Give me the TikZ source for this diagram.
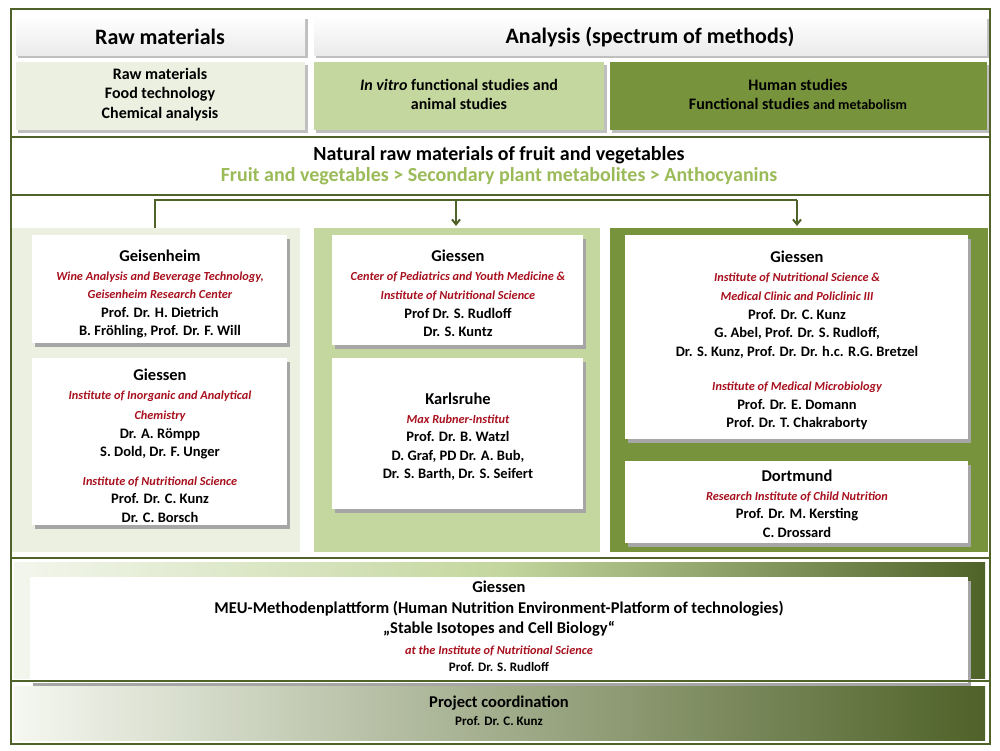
\documentclass[tikz,border=0pt]{standalone}
\usepackage{fontspec}
\setmainfont{Carlito}
\usetikzlibrary{arrows.meta}
\definecolor{frame}{HTML}{4F6228}
\definecolor{pale}{HTML}{EBF0E1}
\definecolor{mid}{HTML}{C4D79E}
\definecolor{dark}{HTML}{77933C}
\definecolor{lgreen}{HTML}{9BBB59}
\definecolor{dred}{HTML}{A8101E}
\newcommand{\fT}{\fontsize{16.5}{18}\selectfont\bfseries}
\newcommand{\fR}{\fontsize{12.3}{14.5}\selectfont\bfseries\itshape\color{dred}}
\newcommand{\fN}{\fontsize{14.5}{18.5}\selectfont\bfseries\upshape\color{black}}
\begin{document}
\begin{tikzpicture}[x=1pt,y=-1pt,
  sep/.style={draw=frame,line width=2.5pt},
  card/.style={fill=white},
  shadow/.style={fill=black!35},
  txt/.style={align=center,inner sep=0pt,anchor=north,font=\fN},
  conn/.style={draw=frame,line width=2pt},
  arr/.style={conn,-{Straight Barb[length=5pt,width=8pt]}}]
\useasboundingbox (0,0) rectangle (1000,750);
\fill[white] (0,0) rectangle (1000,750);
% header row
\fill[black!25] (18,19) rectangle (308,58);
\shade[top color=white,bottom color=black!8] (16,16) rectangle (305,55);
\fill[black!25] (316,19) rectangle (990,58);
\shade[top color=white,bottom color=black!8] (314,16) rectangle (987,55);
\node[font=\fontsize{22}{24}\selectfont\bfseries] (hraw) at (160,37) {Raw materials};
\node[font=\fontsize{22}{24}\selectfont\bfseries] (hana) at (650,37) {Analysis (spectrum of methods)};
% second row
\fill[black!25] (18,65) rectangle (308,133);
\fill[pale] (16,62) rectangle (305,130);
\fill[black!25] (316,65) rectangle (607,133);
\fill[mid] (314,62) rectangle (604,130);
\fill[black!25] (612,65) rectangle (990,133);
\fill[dark] (610,62) rectangle (987,130);
\node[txt,font=\fontsize{16}{19.5}\selectfont\bfseries] (r1) at (160,68) {Raw materials\\Food technology\\Chemical analysis};
\node[txt,font=\fontsize{16}{19.5}\selectfont\bfseries] (r2) at (459,79) {\textit{In vitro} functional studies and\\animal studies};
\node[txt,font=\fontsize{16}{19.5}\selectfont\bfseries] (r3) at (798,79) {Human studies\\Functional studies {\fontsize{14}{19.5}\selectfont and metabolism}};
% natural section
\node[txt,font=\fontsize{20}{21}\selectfont\bfseries] (nat) at (499,146) {Natural raw materials of fruit and vegetables\\\color{lgreen}Fruit and vegetables > Secondary plant metabolites > Anthocyanins};
% column panels
\fill[pale] (12,228) rectangle (300,552);
\fill[mid] (314,228) rectangle (600,552);
\fill[dark] (610,228) rectangle (988,552);
% cards
\fill[shadow] (35,239) rectangle (290,347);
\fill[card] (32,235) rectangle (287,343);
\fill[shadow] (35,362) rectangle (290,529);
\fill[card] (32,358) rectangle (287,525);
\fill[shadow] (335,239) rectangle (586,349);
\fill[card] (332,235) rectangle (583,345);
\fill[shadow] (335,362) rectangle (586,513);
\fill[card] (332,358) rectangle (583,509);
\fill[shadow] (628,239) rectangle (971,443);
\fill[card] (625,235) rectangle (968,439);
\fill[shadow] (628,465) rectangle (971,547);
\fill[card] (625,461) rectangle (968,543);
\node[txt] (c1) at (160,250) {\fT Geisenheim\\\fR Wine Analysis and Beverage Technology,\\\fR Geisenheim Research Center\\Prof. Dr. H. Dietrich\\B. Fröhling, Prof. Dr. F. Will};
\node[txt] (c2) at (160,369) {\fT Giessen\\\fR Institute of Inorganic and Analytical\\[2pt]\fR Chemistry\\Dr. A. Römpp\\S. Dold, Dr. F. Unger\\[10pt]\fR Institute of Nutritional Science\\Prof. Dr. C. Kunz\\Dr. C. Borsch};
\node[txt] (c3) at (458,250) {\fT Giessen\\\fR Center of Pediatrics and Youth Medicine \&\\[1pt]\fR Institute of Nutritional Science\\Prof Dr. S. Rudloff\\Dr. S. Kuntz};
\node[txt] (c4) at (458,393) {\fT Karlsruhe\\\fR Max Rubner-Institut\\Prof. Dr. B. Watzl\\D. Graf, PD Dr. A. Bub,\\Dr. S. Barth, Dr. S. Seifert};
\node[txt] (c5) at (797,251) {\fT Giessen\\\fR Institute of Nutritional Science \&\\[1pt]\fR Medical Clinic and Policlinic III\\Prof. Dr. C. Kunz\\G. Abel, Prof. Dr. S. Rudloff,\\Dr. S. Kunz, Prof. Dr. Dr. h.c. R.G. Bretzel\\[16pt]\fR Institute of Medical Microbiology\\Prof. Dr. E. Domann\\Prof. Dr. T. Chakraborty};
\node[txt] (c6) at (797,470) {\fT Dortmund\\\fR Research Institute of Child Nutrition\\Prof. Dr. M. Kersting\\C. Drossard};
% connectors
\coordinate (jl) at (155,200);
\coordinate (jm) at (456,200);
\coordinate (jr) at (797,200);
\coordinate (tl) at (155,228);
\coordinate (tm) at (456,226);
\coordinate (tr) at (797,226);
\draw[conn] (tl) -- (jl) -- (jr);
\draw[arr] (jm) -- (tm);
\draw[arr] (jr) -- (tr);
% MEU section
\shade[left color=pale!60!white,right color=frame,middle color=mid] (14,562) rectangle (985,678);
\fill[shadow] (33,581) rectangle (971,687);
\fill[card] (30,577) rectangle (968,683);
\node[txt,font=\fontsize{16.5}{20.5}\selectfont\bfseries] (meu) at (499,581) {Giessen\\MEU-Methodenplattform (Human Nutrition Environment-Platform of technologies)\\„Stable Isotopes and Cell Biology“\\{\fR at the Institute of Nutritional Science}\\[-3pt]{\fontsize{13}{15}\selectfont Prof. Dr. S. Rudloff}};
% project coordination
\shade[left color=pale!50!white,middle color=mid!80!white,right color=frame] (14,686) rectangle (985,740);
\node[txt,font=\fontsize{16.5}{18}\selectfont\bfseries] (pc) at (499,696) {Project coordination\\{\fontsize{13}{15}\selectfont Prof. Dr. C. Kunz}};
% frame and separators
\draw[sep] (11,9) rectangle (990,744);
\draw[sep] (11,137) -- (990,137);
\draw[sep] (11,195) -- (990,195);
\draw[sep] (11,558) -- (990,558);
\draw[sep] (11,681) -- (990,681);
\end{tikzpicture}
\end{document}
